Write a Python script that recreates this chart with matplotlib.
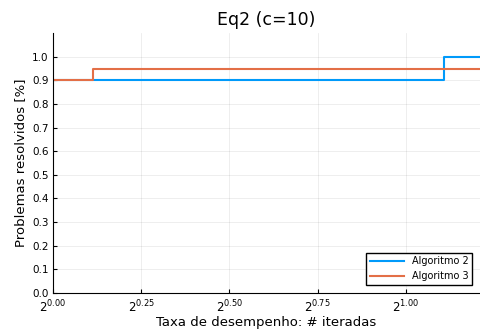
import matplotlib.pyplot as plt
import numpy as np

# performance profile data (log2 of ratio where each step happens)
alg2_x = [1.0, 2.155, 2.32]
alg2_y = [0.9, 1.0, 1.0]
alg3_x = [1.0, 1.083, 2.32]
alg3_y = [0.9, 0.95, 0.95]

xticks = [0.0, 0.25, 0.5, 0.75, 1.0]
yticks = [0.0, 0.1, 0.2, 0.3, 0.4, 0.5, 0.6, 0.7, 0.8, 0.9, 1.0]

fig = plt.figure(figsize=(4.8, 3.31), dpi=100)
ax = fig.add_axes([0.110, 0.115, 0.89, 0.785])

ax.step(alg2_x, alg2_y, where='post', color='#009AFA', lw=1.5, label='Algoritmo 2')
ax.step(alg3_x, alg3_y, where='post', color='#E36F47', lw=1.5, label='Algoritmo 3')

ax.set_xscale('log', base=2)
ax.set_xlim(1.0, 2 ** 1.21)
ax.set_ylim(0, 1.1)
ax.set_xticks([2 ** t for t in xticks])
ax.set_xticklabels([r'$2^{%.2f}$' % t for t in xticks], fontsize=8.5)
ax.xaxis.set_minor_locator(plt.NullLocator())
ax.set_yticks(yticks)
ax.set_yticklabels(['%.1f' % v for v in yticks])

ax.grid(True, color='black', alpha=0.08, lw=0.6)
ax.spines['top'].set_visible(False)
ax.spines['right'].set_visible(False)
ax.tick_params(direction='in', length=3)
ax.tick_params(axis='y', labelsize=7.5, pad=3)
ax.tick_params(axis='x', pad=4)

ax.set_title('Eq2 (c=10)', fontsize=12.5)
ax.set_xlabel('Taxa de desempenho: # iteradas', fontsize=9.5, labelpad=1)
ax.set_ylabel('Problemas resolvidos [%]', fontsize=9.5)
ax.legend(loc='lower right', fontsize=7, fancybox=False, edgecolor='black',
          framealpha=1, handlelength=3.5, borderaxespad=0.8)

fig.savefig('out.png')
